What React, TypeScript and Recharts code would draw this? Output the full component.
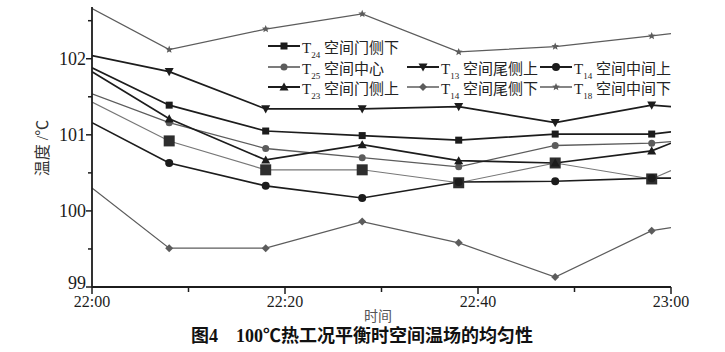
import { Legend, Line, LineChart, XAxis, YAxis } from 'recharts'

// minutes after 22:00
const times = [0, 8, 18, 28, 38, 48, 58, 60]
const xTicks = [0, 10, 20, 30, 40, 50, 60]
const xTickLabels: Record<number, string> = { 0: '22:00', 20: '22:20', 40: '22:40', 60: '23:00' }
const yTicks = [99, 99.5, 100, 100.5, 101, 101.5, 102, 102.5]

const t24DoorLow = [101.88, 101.39, 101.05, 100.99, 100.93, 101.01, 101.01, 101.04]
const t25Center = [101.54, 101.16, 100.82, 100.7, 100.58, 100.86, 100.89, 100.91]
const t23DoorHigh = [101.83, 101.21, 100.67, 100.87, 100.66, 100.63, 100.79, 100.89]
const t13TailHigh = [102.04, 101.83, 101.34, 101.34, 101.37, 101.16, 101.39, 101.37]
const t14MidHigh = [101.16, 100.63, 100.33, 100.17, 100.38, 100.39, 100.43, 100.43]
const t14TailLow = [100.3, 99.51, 99.51, 99.86, 99.58, 99.13, 99.74, 99.78]
const t18MidLow = [102.66, 102.12, 102.39, 102.59, 102.09, 102.16, 102.3, 102.33]
const unlabeled = [101.43, 100.92, 100.54, 100.54, 100.37, 100.63, 100.42, 100.53]

const data = times.map((t, i) => ({
  t,
  t24: t24DoorLow[i],
  t25: t25Center[i],
  t23: t23DoorHigh[i],
  t13: t13TailHigh[i],
  t14a: t14MidHigh[i],
  t14b: t14TailLow[i],
  t18: t18MidLow[i],
  extra: unlabeled[i],
}))

type Shape = 'square' | 'circle' | 'triangle' | 'triangleDown' | 'diamond' | 'star'

type SeriesDef = {
  key: string
  sub: string
  label: string
  stroke: string
  width: number
  shape: Shape
  size: number
  fill: string
  legend?: { x: number; y: number }
}

const DARK = '#1c1c1c'
const GRAY = '#5c5c5c'

const series: SeriesDef[] = [
  { key: 't18', sub: '18', label: '空间中间下', stroke: GRAY, width: 1.2, shape: 'star', size: 8, fill: GRAY, legend: { x: 540, y: 87 } },
  { key: 't14b', sub: '14', label: '空间尾侧下', stroke: GRAY, width: 1.2, shape: 'diamond', size: 8, fill: GRAY, legend: { x: 407, y: 87 } },
  { key: 'extra', sub: '', label: '', stroke: '#777', width: 1.1, shape: 'square', size: 11, fill: '#2e2e2e' },
  { key: 't25', sub: '25', label: '空间中心', stroke: GRAY, width: 1.3, shape: 'circle', size: 7, fill: GRAY, legend: { x: 268, y: 67 } },
  { key: 't14a', sub: '14', label: '空间中间上', stroke: DARK, width: 1.7, shape: 'circle', size: 8, fill: DARK, legend: { x: 540, y: 67 } },
  { key: 't23', sub: '23', label: '空间门侧上', stroke: DARK, width: 1.7, shape: 'triangle', size: 9, fill: DARK, legend: { x: 268, y: 87 } },
  { key: 't24', sub: '24', label: '空间门侧下', stroke: DARK, width: 1.7, shape: 'square', size: 7, fill: DARK, legend: { x: 268, y: 46 } },
  { key: 't13', sub: '13', label: '空间尾侧上', stroke: DARK, width: 1.7, shape: 'triangleDown', size: 9, fill: DARK, legend: { x: 407, y: 67 } },
]

const FONT = '"Liberation Serif", "Noto Sans CJK SC", serif'

function Marker({ shape, cx, cy, size, fill }: { shape: Shape; cx: number; cy: number; size: number; fill: string }) {
  const h = size / 2
  if (shape === 'square') return <rect x={cx - h} y={cy - h} width={size} height={size} fill={fill} />
  if (shape === 'circle') return <circle cx={cx} cy={cy} r={h} fill={fill} />
  if (shape === 'triangle')
    return <polygon points={`${cx},${cy - h} ${cx + h},${cy + h * 0.8} ${cx - h},${cy + h * 0.8}`} fill={fill} />
  if (shape === 'triangleDown')
    return <polygon points={`${cx},${cy + h} ${cx + h},${cy - h * 0.8} ${cx - h},${cy - h * 0.8}`} fill={fill} />
  if (shape === 'diamond')
    return <polygon points={`${cx},${cy - h} ${cx + h},${cy} ${cx},${cy + h} ${cx - h},${cy}`} fill={fill} />
  const pts: string[] = []
  for (let k = 0; k < 10; k++) {
    const r = k % 2 === 0 ? h : h * 0.45
    const a = -Math.PI / 2 + (k * Math.PI) / 5
    pts.push(`${cx + r * Math.cos(a)},${cy + r * Math.sin(a)}`)
  }
  return <polygon points={pts.join(' ')} fill={fill} />
}

function XTick({ x, y, payload }: any) {
  const label = xTickLabels[payload.value]
  const major = label !== undefined
  return (
    <g>
      <line x1={x} x2={x} y1={y} y2={y + (major ? 7 : 5)} stroke={DARK} strokeWidth={1.5} />
      {major ? (
        <text x={x} y={y + 20} textAnchor="middle" fontSize={16} fill={DARK} fontFamily={FONT}>
          {label}
        </text>
      ) : null}
    </g>
  )
}

function YTick({ x, y, payload }: any) {
  const major = Number.isInteger(payload.value)
  // the bottom label sits a little higher so it clears the 22:00 label
  const dy = payload.value === 99 ? 2 : 6
  return (
    <g>
      <line x1={x} x2={x - (major ? 6 : 4)} y1={y} y2={y} stroke={DARK} strokeWidth={1.5} />
      {major ? (
        <text x={x - 6} y={y + dy} textAnchor="end" fontSize={18} fill={DARK} fontFamily={FONT}>
          {payload.value}
        </text>
      ) : null}
    </g>
  )
}

function RightTick({ x, y, payload }: any) {
  const major = Number.isInteger(payload.value)
  return <line x1={x} x2={x - (major ? 6 : 4)} y1={y} y2={y} stroke={DARK} strokeWidth={1.3} />
}

function LegendBox() {
  return (
    <div style={{ position: 'relative', width: 725, height: 352, fontFamily: FONT, fontSize: 15, color: '#222' }}>
      {series
        .filter((s) => s.legend)
        .map((s) => (
          <div
            key={s.key}
            style={{
              position: 'absolute',
              left: s.legend!.x,
              top: s.legend!.y - 10,
              height: 20,
              display: 'flex',
              alignItems: 'center',
              whiteSpace: 'nowrap',
            }}
          >
            <svg width={32} height={12}>
              <line x1={0} x2={32} y1={6} y2={6} stroke={s.stroke} strokeWidth={s.width + 0.3} />
              <Marker shape={s.shape} cx={16} cy={6} size={s.size} fill={s.fill} />
            </svg>
            <span style={{ marginLeft: 2 }}>
              T<span style={{ fontSize: 9, position: 'relative', top: 5 }}>{s.sub}</span> {s.label}
            </span>
          </div>
        ))}
    </div>
  )
}

export default function App() {
  return (
    <div style={{ position: 'absolute', left: 0, top: 0, width: 725, height: 352, background: '#fff' }}>
      <LineChart width={725} height={352} data={data} margin={{ top: 7, right: 54, left: 32, bottom: 35 }}>
        <XAxis
          dataKey="t"
          type="number"
          domain={[0, 60]}
          ticks={xTicks}
          allowDataOverflow
          height={30}
          tickSize={0}
          tickMargin={0}
          tickLine={false}
          axisLine={{ stroke: DARK, strokeWidth: 1.8 }}
          tick={<XTick />}
        />
        <YAxis
          domain={[99, 102.68]}
          ticks={yTicks}
          allowDataOverflow
          width={60}
          tickSize={0}
          tickMargin={0}
          tickLine={false}
          axisLine={{ stroke: DARK, strokeWidth: 1.8 }}
          tick={<YTick />}
        />
        <YAxis
          yAxisId="r"
          orientation="right"
          mirror
          width={0}
          domain={[99, 102.68]}
          ticks={yTicks}
          allowDataOverflow
          tickSize={0}
          tickMargin={0}
          tickLine={false}
          axisLine={{ stroke: DARK, strokeWidth: 1.5 }}
          tick={<RightTick />}
        />
        <Legend
          verticalAlign="middle"
          align="center"
          layout="horizontal"
          wrapperStyle={{ left: 0, top: 0, width: 725, height: 352, pointerEvents: 'none' }}
          content={() => <LegendBox />}
        />
        {series.map((s) => (
          <Line
            key={s.key}
            dataKey={s.key}
            name={s.label}
            stroke={s.stroke}
            strokeWidth={s.width}
            type="linear"
            isAnimationActive={false}
            dot={(p: any) =>
              p.index === 0 || p.index === times.length - 1 ? (
                <g key={`${s.key}-${p.index}`} />
              ) : (
                <Marker key={`${s.key}-${p.index}`} shape={s.shape} cx={p.cx} cy={p.cy} size={s.size} fill={s.fill} />
              )
            }
            activeDot={false}
          />
        ))}
      </LineChart>
      <svg
        width={725}
        height={352}
        style={{ position: 'absolute', left: 0, top: 0, pointerEvents: 'none', fontFamily: FONT }}
      >
        <text transform="translate(42,148) rotate(-90)" textAnchor="middle" dy={6} fontSize={16} fill="#333">
          温度 /℃
        </text>
        <text x={378} y={321} textAnchor="middle" fontSize={14} fill="#555">
          时间
        </text>
        <text x={362} y={342} textAnchor="middle" fontSize={18} fontWeight="bold" fill="#111">
          图4　100℃热工况平衡时空间温场的均匀性
        </text>
      </svg>
    </div>
  )
}
